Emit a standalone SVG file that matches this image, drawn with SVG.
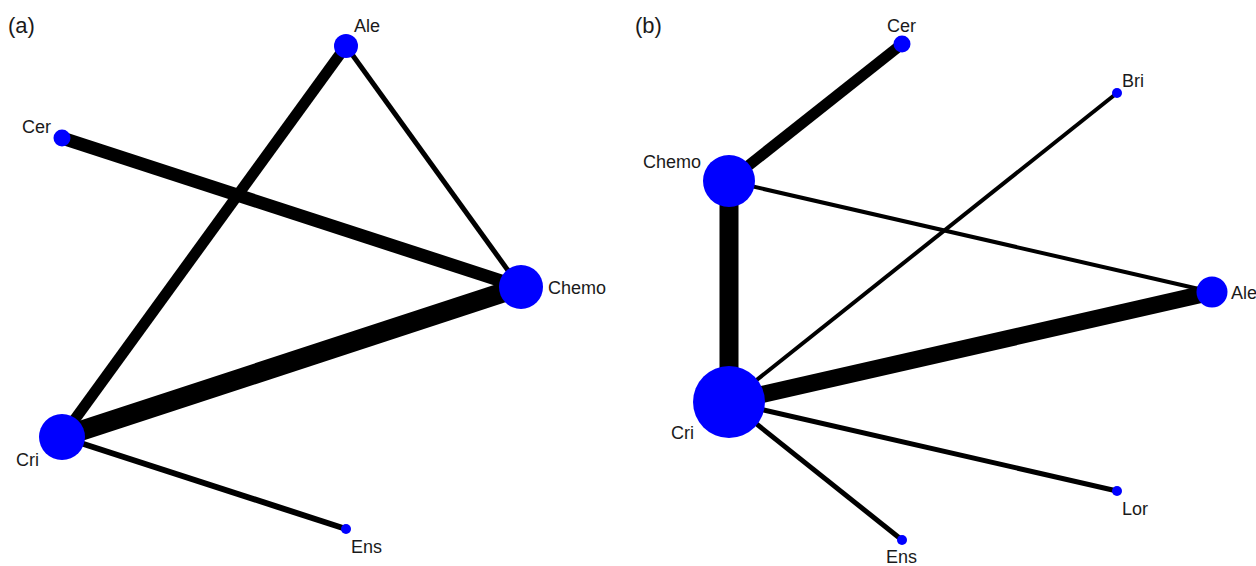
<svg xmlns="http://www.w3.org/2000/svg" width="1256" height="566" viewBox="0 0 1256 566">
  <style>
    .edge { stroke: #000; fill: none; stroke-linecap: butt; }
    .node circle { fill: #0000ff; }
    text { font-family: "Liberation Sans", Arial, sans-serif; font-size: 18px; fill: #1a1a1a; }
    .panel { font-size: 22px; }
  </style>
  <rect width="1256" height="566" fill="#fff"/>

  <!-- Panel (a) -->
  <text class="panel" x="8" y="33">(a)</text>
  <g id="edges-a">
    <line class="edge" x1="62" y1="437" x2="346" y2="46" stroke-width="11"/>
    <line class="edge" x1="346" y1="46" x2="520" y2="287" stroke-width="5"/>
    <line class="edge" x1="62" y1="138" x2="520" y2="287" stroke-width="13"/>
    <line class="edge" x1="62" y1="437" x2="520" y2="287" stroke-width="20"/>
    <line class="edge" x1="62" y1="437" x2="346" y2="529" stroke-width="6"/>
  </g>
  <g id="a-ale" class="node"><circle cx="346" cy="46" r="12"/><text x="354" y="32">Ale</text></g>
  <g id="a-cer" class="node"><circle cx="62" cy="138" r="8.5"/><text x="22" y="133">Cer</text></g>
  <g id="a-chemo" class="node"><circle cx="521" cy="287" r="22"/><text x="548" y="294">Chemo</text></g>
  <g id="a-cri" class="node"><circle cx="62" cy="437" r="23"/><text x="16" y="466">Cri</text></g>
  <g id="a-ens" class="node"><circle cx="346" cy="529" r="5"/><text x="351" y="553">Ens</text></g>

  <!-- Panel (b) -->
  <text class="panel" x="635" y="33">(b)</text>
  <g id="edges-b">
    <line class="edge" x1="729" y1="181" x2="902" y2="44" stroke-width="11"/>
    <line class="edge" x1="729" y1="181" x2="729" y2="402" stroke-width="19"/>
    <line class="edge" x1="729" y1="181" x2="1212" y2="292" stroke-width="4"/>
    <line class="edge" x1="729" y1="402" x2="1117" y2="93" stroke-width="4"/>
    <line class="edge" x1="729" y1="402" x2="1212" y2="292" stroke-width="17"/>
    <line class="edge" x1="729" y1="402" x2="1117" y2="491" stroke-width="5"/>
    <line class="edge" x1="729" y1="402" x2="902" y2="540" stroke-width="5"/>
  </g>
  <g id="b-cer" class="node"><circle cx="902" cy="44" r="8.5"/><text x="887" y="32">Cer</text></g>
  <g id="b-bri" class="node"><circle cx="1117" cy="93" r="5"/><text x="1122" y="87">Bri</text></g>
  <g id="b-chemo" class="node"><circle cx="729" cy="181" r="26"/><text x="643" y="168">Chemo</text></g>
  <g id="b-ale" class="node"><circle cx="1212" cy="292" r="15.5"/><text x="1231" y="299">Ale</text></g>
  <g id="b-cri" class="node"><circle cx="729" cy="402" r="36"/><text x="671" y="439">Cri</text></g>
  <g id="b-lor" class="node"><circle cx="1117" cy="491" r="5"/><text x="1122" y="515">Lor</text></g>
  <g id="b-ens" class="node"><circle cx="902" cy="540" r="5"/><text x="886" y="563">Ens</text></g>
</svg>
